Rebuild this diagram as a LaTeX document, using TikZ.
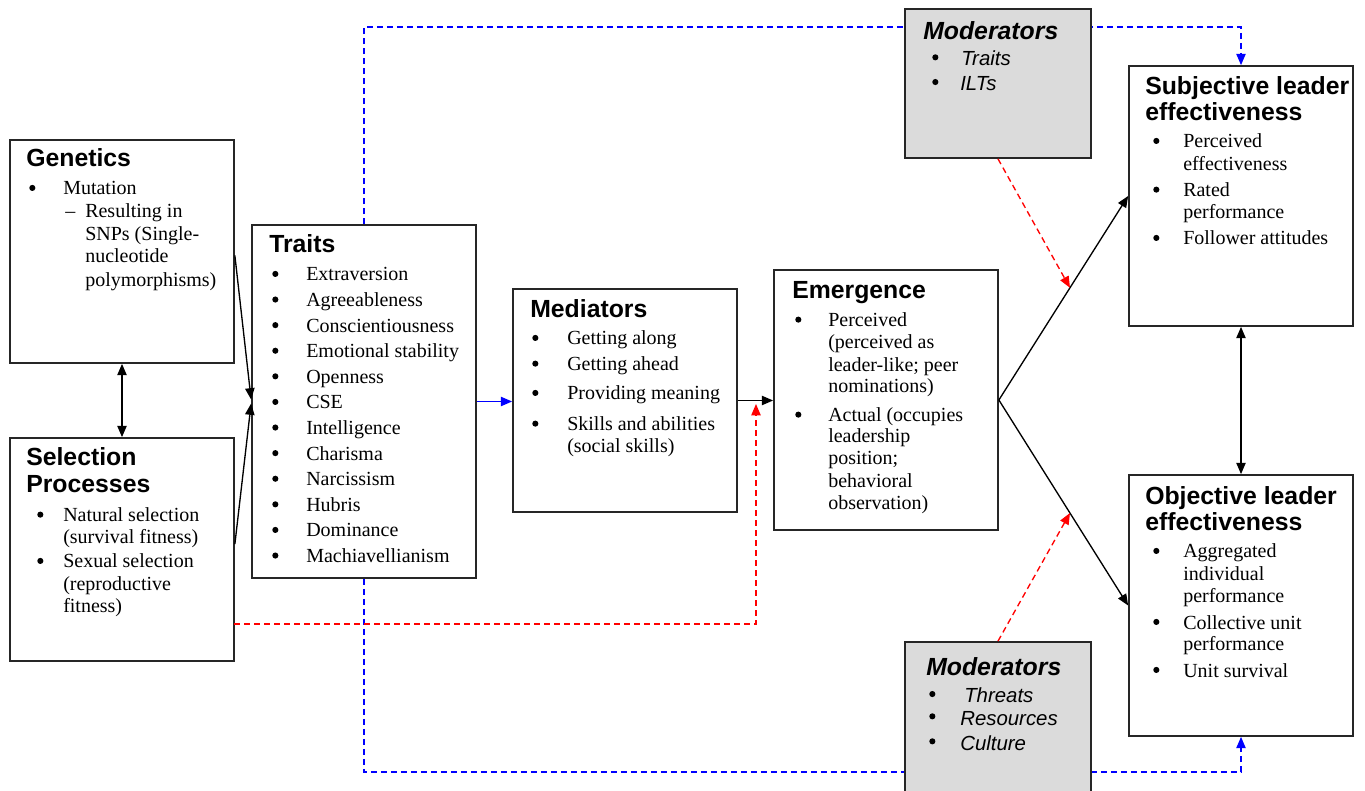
\documentclass[tikz,border=0pt]{standalone}
\usepackage{fontspec}
\setmainfont{Liberation Serif}
\setsansfont{Liberation Sans}
\usetikzlibrary{arrows.meta,fit,calc}
\pgfdeclarelayer{bg}
\pgfsetlayers{bg,main}
\newcommand\bul{\raisebox{3pt}{\tikz[x=1pt,y=1pt]\fill (0,0) circle (2.3pt);}}
\newcommand\mbul{\raisebox{4.2pt}{\tikz[x=1pt,y=1pt]\fill (0,0) circle (2.3pt);}}
\newcommand\li[6]{\node[txt] (#1) at (#2,#4) {\makebox[\dimexpr(#3pt-#2pt)*3/4\relax][l]{#5}#6};}
\newcommand\mli[5]{\node[mtxt] (#1) at (#2,#4) {\makebox[\dimexpr(#3pt-#2pt)*3/4\relax][l]{\mbul}#5};}
\begin{document}
\begin{tikzpicture}[x=0.75pt,y=-0.75pt,
  box/.style={draw=black!85, line width=1.3pt, fill=white, inner sep=0pt},
  modbox/.style={box, fill=black!14},
  txt/.style={inner sep=0pt, anchor=base west, font=\fontsize{15}{18}\selectfont},
  mtxt/.style={inner sep=0pt, anchor=base west, font=\sffamily\itshape\fontsize{15.3}{18}\selectfont},
  ttl/.style={inner sep=0pt, anchor=base west, font=\sffamily\bfseries\fontsize{18.6}{22}\selectfont},
  mttl/.style={inner sep=0pt, anchor=base west, font=\sffamily\bfseries\itshape\fontsize{18.6}{22}\selectfont},
  arr/.style={-{Triangle[length=8.5pt,width=7pt]}, line width=1pt},
  darr/.style={{Triangle[length=8.5pt,width=7pt]}-{Triangle[length=8.5pt,width=7pt]}, line width=1pt},
  bdash/.style={arr, draw=blue, dash pattern=on 4.5pt off 3pt},
  rdash/.style={arr, draw=red, dash pattern=on 4.5pt off 3pt}]
\useasboundingbox (0,0) rectangle (1365,791);
\clip (0,0) rectangle (1365,791);

% boxes
\node[box, fit={(10,140) (234,363)}] (gen) {};
\node[box, fit={(10,438) (234,661)}] (sel) {};
\node[box, fit={(252,225) (476,578)}] (tra) {};
\node[box, fit={(513,289) (737,512)}] (med) {};
\node[box, fit={(774,270) (998,530)}] (eme) {};
\node[modbox, fit={(905,9) (1091,158)}] (modt) {};
\node[modbox, fit={(905,642) (1091,805)}] (modb) {};
\node[box, fit={(1129,66) (1353,326)}] (subj) {};
\node[box, fit={(1129,475) (1353,736)}] (obj) {};

% helper coordinates
\coordinate (bt1) at (364,27);
\coordinate (bt2) at (1241,27);
\coordinate (bb1) at (364,772);
\coordinate (bb2) at (1241,772);
\coordinate (rs) at (234,624);
\coordinate (rt) at (756,404);

\begin{pgfonlayer}{bg}
\draw[bdash] (tra.north) -- (bt1) -- (bt2) -- (subj.north);
\draw[bdash] (tra.south) -- (bb1) -- (bb2) -- (obj.south);
\end{pgfonlayer}
\draw[rdash] (rs) -| (rt);

% connectors
\draw[darr] (gen.south) -- (sel.north);
\draw[darr] (subj.south) -- (obj.north);
\draw[arr] ([yshift=-3pt]gen.east) -- ([yshift=1.5pt]tra.west);
\draw[arr] ([yshift=4pt]sel.east) -- ([yshift=-1.5pt]tra.west);
\draw[arr, draw=blue] (tra.east) -- (tra.east -| med.west);
\draw[arr] (med.east) -- (med.east -| eme.west);
\draw[arr] (eme.east) -- (subj.west);
\draw[arr] (eme.east) -- (obj.west);
\draw[rdash] (modt.south) -- ($(eme.east)!0.55!(subj.west)$);
\draw[rdash] (modb.north) -- ($(eme.east)!0.55!(obj.west)$);

% Genetics
\node[ttl] (gt) at (26,167) {Genetics};
\li{g1}{29}{63}{195}{\bul}{Mutation}
\li{g2}{65}{85}{217.7}{–}{Resulting in}
\node[txt] (g3) at (85,241) {SNPs (Single-};
\node[txt] (g4) at (85,263) {nucleotide};
\node[txt] (g5) at (85,286.7) {polymorphisms)};

% Selection
\node[ttl] (st1) at (26,466) {Selection};
\node[ttl] (st2) at (26,493) {Processes};
\li{s1}{37}{63}{521.7}{\bul}{Natural selection}
\node[txt] (s2) at (63,544) {(survival fitness)};
\li{s3}{37}{63}{568}{\bul}{Sexual selection}
\node[txt] (s4) at (63,590) {(reproductive};
\node[txt] (s5) at (63,613) {fitness)};

% Traits
\node[ttl] (tt) at (269,253) {Traits};
\li{t1}{272}{306}{281}{\bul}{Extraversion}
\li{t2}{272}{306}{306.6}{\bul}{Agreeableness}
\li{t3}{272}{306}{332.2}{\bul}{Conscientiousness}
\li{t4}{272}{306}{357.8}{\bul}{Emotional stability}
\li{t5}{272}{306}{383.4}{\bul}{Openness}
\li{t6}{272}{306}{409}{\bul}{CSE}
\li{t7}{272}{306}{434.6}{\bul}{Intelligence}
\li{t8}{272}{306}{460.2}{\bul}{Charisma}
\li{t9}{272}{306}{485.8}{\bul}{Narcissism}
\li{t10}{272}{306}{511.4}{\bul}{Hubris}
\li{t11}{272}{306}{537}{\bul}{Dominance}
\li{t12}{272}{306}{562.6}{\bul}{Machiavellianism}

% Mediators
\node[ttl] (mt) at (530,318) {Mediators};
\li{m1}{532}{567}{345}{\bul}{Getting along}
\li{m2}{532}{567}{370.7}{\bul}{Getting ahead}
\li{m3}{532}{567}{400}{\bul}{Providing meaning}
\li{m4}{532}{567}{430.7}{\bul}{Skills and abilities}
\node[txt] (m5) at (567,453) {(social skills)};

% Emergence
\node[ttl] (et) at (792,299) {Emergence};
\li{e1}{795}{828}{326.7}{\bul}{Perceived}
\node[txt] (e2) at (828,349) {(perceived as};
\node[txt] (e3) at (828,371.7) {leader-like; peer};
\node[txt] (e4) at (828,393) {nominations)};
\li{e5}{795}{828}{421.7}{\bul}{Actual (occupies}
\node[txt] (e6) at (828,443) {leadership};
\node[txt] (e7) at (828,465) {position;};
\node[txt] (e8) at (828,488) {behavioral};
\node[txt] (e9) at (828,510) {observation)};

% Subjective
\node[ttl] (sjt1) at (1145,95) {Subjective leader};
\node[ttl] (sjt2) at (1145,120.7) {effectiveness};
\li{sj1}{1153}{1183}{148}{\bul}{Perceived}
\node[txt] (sj2) at (1183,170.7) {effectiveness};
\li{sj3}{1153}{1183}{196.7}{\bul}{Rated}
\node[txt] (sj4) at (1183,219) {performance};
\li{sj5}{1153}{1183}{245}{\bul}{Follower attitudes}

% Objective
\node[ttl] (ot1) at (1145,505) {Objective leader};
\node[ttl] (ot2) at (1145,530.7) {effectiveness};
\li{o1}{1153}{1183}{558}{\bul}{Aggregated}
\node[txt] (o2) at (1183,580.7) {individual};
\node[txt] (o3) at (1183,603) {performance};
\li{o4}{1153}{1183}{629}{\bul}{Collective unit}
\node[txt] (o5) at (1183,650.7) {performance};
\li{o6}{1153}{1183}{677}{\bul}{Unit survival}

% Moderators top
\node[mttl] (mdt) at (923,39.3) {Moderators};
\mli{md1}{932}{961}{66}{Traits}
\mli{md2}{932}{960}{90.7}{ILTs}

% Moderators bottom
\node[mttl] (mdb) at (926,675) {Moderators};
\mli{mb1}{929}{964}{702.7}{Threats}
\mli{mb2}{929}{960}{725}{Resources}
\mli{mb3}{929}{960}{750}{Culture}
\end{tikzpicture}
\end{document}
